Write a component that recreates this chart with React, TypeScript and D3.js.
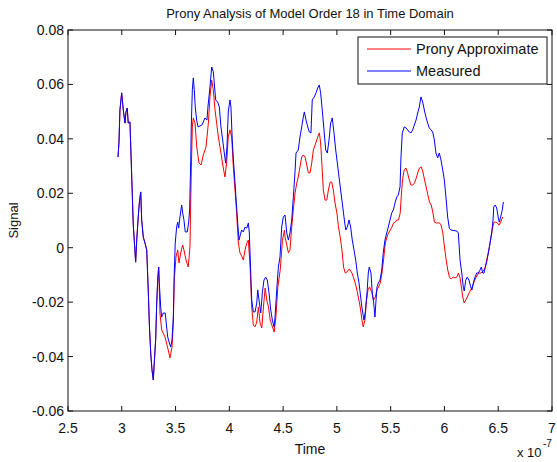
import React from "react";
import * as d3 from "d3";

// time axis is in units of 1e-7 s (MATLAB shows "x 10^-7" at the corner)
const title = "Prony Analysis of Model Order 18 in Time Domain";
const xLabel = "Time";
const yLabel = "Signal";
const seriesNames = ["Prony Approximate", "Measured"];

const xTicks = [2.5, 3, 3.5, 4, 4.5, 5, 5.5, 6, 6.5, 7];
const xTickLabels = ["2.5", "3", "3.5", "4", "4.5", "5", "5.5", "6", "6.5", "7"];
const yTicks = [-0.06, -0.04, -0.02, 0, 0.02, 0.04, 0.06, 0.08];
const yTickLabels = ["-0.06", "-0.04", "-0.02", "0", "0.02", "0.04", "0.06", "0.08"];

const measured: [number, number][] = [
  [2.965, 0.0333], [2.974, 0.0388], [2.983, 0.0506], [2.999, 0.0569], [3.014, 0.0506],
  [3.030, 0.0458], [3.039, 0.0499], [3.051, 0.0513], [3.060, 0.0458], [3.076, 0.0462],
  [3.086, 0.0341], [3.098, 0.0194], [3.107, 0.0083], [3.116, 0.0028], [3.129, -0.0053],
  [3.139, 0.0028], [3.153, 0.0113], [3.163, 0.0164], [3.176, 0.0205], [3.185, 0.0102],
  [3.200, 0.0039], [3.216, 0.0017], [3.232, -0.0008], [3.247, -0.0166], [3.256, -0.0277],
  [3.269, -0.0387], [3.281, -0.0449], [3.293, -0.0486], [3.302, -0.0424], [3.315, -0.0339],
  [3.325, -0.0203], [3.334, -0.0119], [3.343, -0.0071], [3.349, -0.0130], [3.362, -0.0218],
  [3.371, -0.0255], [3.386, -0.0240], [3.404, -0.0240], [3.417, -0.0291], [3.427, -0.0328],
  [3.442, -0.0350], [3.455, -0.0365], [3.467, -0.0339], [3.479, -0.0255], [3.488, -0.0093],
  [3.497, 0.0017], [3.510, 0.0076], [3.520, 0.0094], [3.529, 0.0072], [3.541, 0.0113],
  [3.557, 0.0157], [3.566, 0.0128], [3.578, 0.0102], [3.590, 0.0058], [3.609, 0.0058],
  [3.622, 0.0094], [3.631, 0.0139], [3.641, 0.0322], [3.646, 0.0444], [3.656, 0.0580],
  [3.665, 0.0624], [3.674, 0.0580], [3.683, 0.0517], [3.696, 0.0469], [3.709, 0.0444],
  [3.746, 0.0451], [3.774, 0.0477], [3.792, 0.0469], [3.801, 0.0517], [3.820, 0.0591],
  [3.836, 0.0664], [3.851, 0.0646], [3.860, 0.0605], [3.873, 0.0543], [3.892, 0.0535],
  [3.907, 0.0517], [3.922, 0.0444], [3.938, 0.0396], [3.953, 0.0348], [3.966, 0.0311],
  [3.978, 0.0370], [3.990, 0.0499], [4.006, 0.0543], [4.015, 0.0517], [4.027, 0.0396],
  [4.040, 0.0311], [4.053, 0.0238], [4.065, 0.0164], [4.078, 0.0091], [4.090, 0.0028],
  [4.102, 0.0047], [4.115, 0.0065], [4.130, 0.0058], [4.146, 0.0076], [4.162, 0.0072],
  [4.177, 0.0091], [4.186, 0.0054], [4.199, -0.0093], [4.208, -0.0192], [4.223, -0.0236],
  [4.239, -0.0236], [4.255, -0.0203], [4.264, -0.0155], [4.276, -0.0192], [4.292, -0.0240],
  [4.307, -0.0166], [4.322, -0.0119], [4.338, -0.0108], [4.353, -0.0119], [4.369, -0.0166],
  [4.385, -0.0229], [4.400, -0.0266], [4.416, -0.0291], [4.425, -0.0255], [4.441, -0.0155],
  [4.456, -0.0071], [4.471, -0.0034], [4.487, 0.0076], [4.502, 0.0113], [4.518, 0.0120],
  [4.534, 0.0054], [4.549, 0.0028], [4.564, 0.0054], [4.580, 0.0102], [4.595, 0.0186],
  [4.610, 0.0275], [4.620, 0.0348], [4.641, 0.0359], [4.657, 0.0407], [4.673, 0.0444],
  [4.688, 0.0480], [4.697, 0.0499], [4.713, 0.0469], [4.729, 0.0444], [4.744, 0.0425],
  [4.759, 0.0422], [4.771, 0.0543], [4.790, 0.0554], [4.806, 0.0569], [4.822, 0.0587],
  [4.836, 0.0598], [4.849, 0.0569], [4.864, 0.0506], [4.880, 0.0433], [4.896, 0.0359],
  [4.911, 0.0348], [4.927, 0.0396], [4.942, 0.0458], [4.957, 0.0477], [4.973, 0.0422],
  [4.989, 0.0359], [5.004, 0.0311], [5.020, 0.0260], [5.035, 0.0212], [5.050, 0.0164],
  [5.066, 0.0113], [5.082, 0.0065], [5.097, 0.0076], [5.113, 0.0102], [5.128, 0.0076],
  [5.143, 0.0028], [5.159, -0.0008], [5.175, -0.0045], [5.190, -0.0093], [5.206, -0.0130],
  [5.221, -0.0181], [5.236, -0.0229], [5.252, -0.0266], [5.264, -0.0236], [5.280, -0.0166],
  [5.292, -0.0093], [5.301, -0.0071], [5.317, -0.0093], [5.329, -0.0166], [5.342, -0.0203],
  [5.354, -0.0255], [5.364, -0.0192], [5.373, -0.0144], [5.385, -0.0130], [5.401, -0.0119],
  [5.417, -0.0082], [5.431, -0.0019], [5.447, 0.0028], [5.463, 0.0054], [5.478, 0.0076],
  [5.494, 0.0102], [5.510, 0.0128], [5.525, 0.0139], [5.540, 0.0164], [5.556, 0.0186],
  [5.571, 0.0194], [5.587, 0.0223], [5.596, 0.0333], [5.608, 0.0422], [5.627, 0.0444],
  [5.643, 0.0440], [5.658, 0.0433], [5.673, 0.0425], [5.689, 0.0422], [5.705, 0.0433],
  [5.720, 0.0451], [5.736, 0.0469], [5.751, 0.0495], [5.766, 0.0517], [5.782, 0.0554],
  [5.798, 0.0535], [5.813, 0.0506], [5.828, 0.0480], [5.844, 0.0458], [5.859, 0.0440],
  [5.875, 0.0433], [5.891, 0.0425], [5.906, 0.0396], [5.921, 0.0348], [5.937, 0.0330],
  [5.952, 0.0348], [5.968, 0.0322], [5.984, 0.0286], [5.999, 0.0249], [6.014, 0.0186],
  [6.030, 0.0113], [6.045, 0.0072], [6.061, 0.0065], [6.117, 0.0061], [6.129, 0.0054],
  [6.145, -0.0045], [6.161, -0.0093], [6.175, -0.0144], [6.184, -0.0159], [6.198, -0.0119],
  [6.212, -0.0108], [6.228, -0.0119], [6.244, -0.0144], [6.256, -0.0155], [6.268, -0.0130],
  [6.284, -0.0108], [6.300, -0.0093], [6.315, -0.0093], [6.331, -0.0082], [6.343, -0.0071],
  [6.356, -0.0093], [6.368, -0.0093], [6.380, -0.0071], [6.393, -0.0053], [6.408, -0.0019],
  [6.424, 0.0017], [6.440, 0.0058], [6.452, 0.0102], [6.458, 0.0150], [6.471, 0.0157],
  [6.486, 0.0146], [6.501, 0.0109], [6.510, 0.0094], [6.523, 0.0113], [6.538, 0.0139],
  [6.548, 0.0168],
];

// before ~3.35 the Prony curve sits right under the measured one
const pronyTail: [number, number][] = [
  [3.355, -0.0240], [3.371, -0.0302], [3.402, -0.0328], [3.432, -0.0376], [3.448, -0.0405],
  [3.467, -0.0365], [3.479, -0.0277], [3.488, -0.0119], [3.504, -0.0034], [3.520, -0.0008],
  [3.532, -0.0056], [3.548, -0.0019], [3.566, 0.0010], [3.578, -0.0008], [3.597, -0.0045],
  [3.618, -0.0071], [3.634, 0.0003], [3.646, 0.0275], [3.656, 0.0444], [3.665, 0.0477],
  [3.681, 0.0458], [3.697, 0.0370], [3.718, 0.0311], [3.737, 0.0304], [3.758, 0.0341],
  [3.783, 0.0370], [3.805, 0.0458], [3.820, 0.0554], [3.836, 0.0616], [3.851, 0.0580],
  [3.867, 0.0506], [3.882, 0.0458], [3.898, 0.0407], [3.922, 0.0348], [3.944, 0.0293],
  [3.959, 0.0260], [3.975, 0.0311], [3.990, 0.0407], [4.006, 0.0433], [4.022, 0.0407],
  [4.037, 0.0297], [4.053, 0.0212], [4.068, 0.0128], [4.084, 0.0017], [4.099, -0.0019],
  [4.115, -0.0031], [4.130, -0.0045], [4.146, -0.0008], [4.162, 0.0017], [4.177, 0.0028],
  [4.193, -0.0071], [4.208, -0.0218], [4.223, -0.0284], [4.239, -0.0291], [4.255, -0.0273],
  [4.270, -0.0218], [4.286, -0.0277], [4.302, -0.0295], [4.317, -0.0218], [4.333, -0.0148],
  [4.348, -0.0192], [4.364, -0.0218], [4.380, -0.0266], [4.401, -0.0291], [4.417, -0.0310],
  [4.433, -0.0255], [4.451, -0.0144], [4.473, -0.0082], [4.494, 0.0028], [4.513, 0.0065],
  [4.518, 0.0039], [4.534, 0.0010], [4.549, -0.0019], [4.564, -0.0008], [4.580, 0.0076],
  [4.595, 0.0139], [4.611, 0.0201], [4.627, 0.0238], [4.641, 0.0260], [4.657, 0.0297],
  [4.673, 0.0333], [4.688, 0.0341], [4.704, 0.0333], [4.720, 0.0304], [4.735, 0.0275],
  [4.751, 0.0275], [4.766, 0.0311], [4.781, 0.0359], [4.797, 0.0377], [4.813, 0.0396],
  [4.828, 0.0414], [4.837, 0.0422], [4.849, 0.0385], [4.862, 0.0297], [4.874, 0.0212],
  [4.890, 0.0175], [4.906, 0.0175], [4.921, 0.0212], [4.937, 0.0241], [4.952, 0.0241],
  [4.967, 0.0212], [4.983, 0.0164], [5.000, 0.0128], [5.015, 0.0076], [5.031, 0.0039],
  [5.047, -0.0008], [5.062, -0.0071], [5.078, -0.0093], [5.094, -0.0089], [5.115, -0.0078],
  [5.140, -0.0093], [5.162, -0.0119], [5.180, -0.0144], [5.199, -0.0181], [5.217, -0.0218],
  [5.233, -0.0266], [5.245, -0.0291], [5.261, -0.0266], [5.273, -0.0203], [5.289, -0.0155],
  [5.304, -0.0144], [5.326, -0.0166], [5.341, -0.0192], [5.357, -0.0181], [5.373, -0.0155],
  [5.388, -0.0144], [5.403, -0.0130], [5.419, -0.0093], [5.434, -0.0045], [5.450, 0.0017],
  [5.465, 0.0039], [5.480, 0.0054], [5.496, 0.0065], [5.512, 0.0076], [5.527, 0.0091],
  [5.542, 0.0094], [5.558, 0.0102], [5.573, 0.0102], [5.589, 0.0128], [5.598, 0.0186],
  [5.610, 0.0249], [5.626, 0.0286], [5.642, 0.0293], [5.657, 0.0275], [5.673, 0.0249],
  [5.688, 0.0230], [5.703, 0.0230], [5.722, 0.0238], [5.738, 0.0256], [5.754, 0.0278],
  [5.768, 0.0293], [5.784, 0.0297], [5.800, 0.0278], [5.815, 0.0249], [5.830, 0.0223],
  [5.846, 0.0194], [5.861, 0.0168], [5.877, 0.0157], [5.892, 0.0131], [5.907, 0.0094],
  [5.923, 0.0091], [5.939, 0.0091], [5.954, 0.0091], [5.969, 0.0083], [5.985, 0.0054],
  [6.000, 0.0003], [6.016, -0.0045], [6.031, -0.0082], [6.046, -0.0108], [6.062, -0.0115],
  [6.081, -0.0108], [6.099, -0.0111], [6.115, -0.0108], [6.130, -0.0093], [6.145, -0.0111],
  [6.161, -0.0155], [6.170, -0.0181], [6.183, -0.0203], [6.198, -0.0192], [6.213, -0.0181],
  [6.229, -0.0166], [6.244, -0.0155], [6.259, -0.0144], [6.275, -0.0126], [6.291, -0.0111],
  [6.306, -0.0100], [6.321, -0.0093], [6.337, -0.0093], [6.352, -0.0089], [6.368, -0.0082],
  [6.380, -0.0071], [6.393, -0.0045], [6.408, -0.0019], [6.424, 0.0017], [6.440, 0.0054],
  [6.449, 0.0076], [6.461, 0.0094], [6.477, 0.0094], [6.492, 0.0091], [6.508, 0.0083],
  [6.523, 0.0094], [6.541, 0.0113],
];
const prony: [number, number][] = [...measured.slice(0, 33), ...pronyTail];

const W = 557;
const H = 462;
const M = { left: 68, right: 5, top: 30, bottom: 51 };
const FONT = "'Liberation Sans', Arial, Helvetica, sans-serif";
const TICK = 5;

export default function App() {
  const x = d3.scaleLinear().domain([2.5, 7]).range([M.left, W - M.right]);
  const y = d3.scaleLinear().domain([-0.06, 0.08]).range([H - M.bottom, M.top]);
  const line = d3.line<[number, number]>().x(d => x(d[0])).y(d => y(d[1]));

  const x0 = x.range()[0], x1 = x.range()[1];
  const y0 = y.range()[0], y1 = y.range()[1];

  return (
    <svg width={W} height={H} style={{ position: "absolute", left: 0, top: 0, background: "#fff" }}
      fontFamily={FONT}>
      <rect x={0} y={0} width={W} height={H} fill="#fff" />

      <text x={(x0 + x1) / 2} y={18} textAnchor="middle" fontSize={13} fill="#111">{title}</text>

      <path d={line(prony) || ""} fill="none" stroke="#ff0000" strokeWidth={1} />
      <path d={line(measured) || ""} fill="none" stroke="#0000ff" strokeWidth={1} />

      {/* box + inward ticks */}
      <rect x={x0} y={y1} width={x1 - x0} height={y0 - y1} fill="none" stroke="#111" strokeWidth={1} />
      {xTicks.map((t, i) => (
        <g key={"xt" + i}>
          <line x1={x(t)} x2={x(t)} y1={y0} y2={y0 - TICK} stroke="#111" />
          <line x1={x(t)} x2={x(t)} y1={y1} y2={y1 + TICK} stroke="#111" />
          <text x={x(t)} y={y0 + 22} textAnchor="middle" fontSize={14} fill="#111">{xTickLabels[i]}</text>
        </g>
      ))}
      {yTicks.map((t, i) => (
        <g key={"yt" + i}>
          <line x1={x0} x2={x0 + TICK} y1={y(t)} y2={y(t)} stroke="#111" />
          <line x1={x1} x2={x1 - TICK} y1={y(t)} y2={y(t)} stroke="#111" />
          <text x={x0 - 4} y={y(t) + 5} textAnchor="end" fontSize={14} fill="#111">{yTickLabels[i]}</text>
        </g>
      ))}

      <text x={(x0 + x1) / 2} y={454} textAnchor="middle" fontSize={14} fill="#111">{xLabel}</text>
      <text transform={`translate(18,${(y0 + y1) / 2}) rotate(-90)`} textAnchor="middle" fontSize={13} fill="#111">{yLabel}</text>
      <text x={517} y={457} fontSize={13} fill="#111">x 10</text>
      <text x={543} y={447} fontSize={10} fill="#111">-7</text>

      {/* legend */}
      <g>
        <rect x={358} y={37} width={189} height={47} fill="#fff" stroke="#111" strokeWidth={1} />
        {seriesNames.map((name, i) => (
          <g key={name}>
            <line x1={367} x2={411} y1={49 + i * 22} y2={49 + i * 22} stroke={i === 0 ? "#ff0000" : "#0000ff"} />
            <text x={416} y={54 + i * 22} fontSize={14.5} fill="#111">{name}</text>
          </g>
        ))}
      </g>
    </svg>
  );
}
